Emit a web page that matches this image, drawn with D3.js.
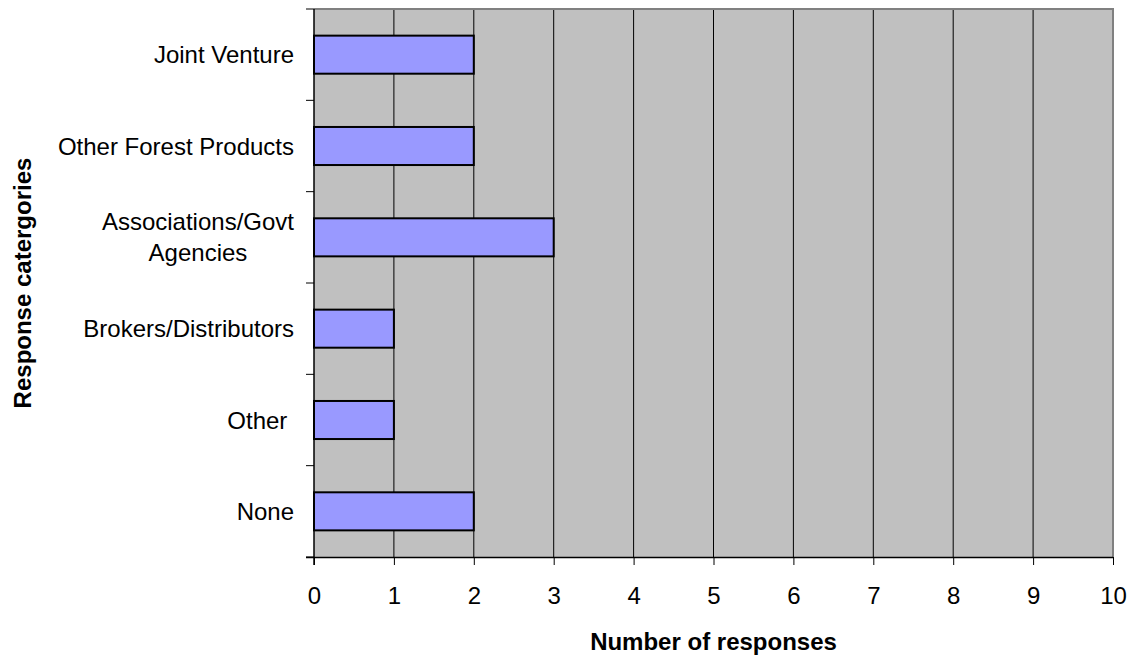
<!DOCTYPE html>
<html>
<head>
<meta charset="utf-8">
<script src="https://cdn.jsdelivr.net/npm/d3@7"></script>
<style>
  html, body { margin: 0; padding: 0; background: #ffffff; }
  svg { display: block; }
  text { font-family: Arial, "Liberation Sans", sans-serif; fill: #000; white-space: pre; }
</style>
</head>
<body>
<svg id="chart" width="1139" height="658"></svg>
<script>
// Response categories (top to bottom) and their counts
const categories = ["Joint Venture", "Other Forest Products", "Associations/Govt\nAgencies", "Brokers/Distributors", "Other ", "None"];
const responses = [2, 2, 3, 1, 1, 2];
const xTicks = [0, 1, 2, 3, 4, 5, 6, 7, 8, 9, 10];
const xTitle = "Number of responses";
const yTitle = "Response catergories";

const svg = d3.select("#chart");
const plot = { left: 314, right: 1113, top: 9, bottom: 557 };

const x = d3.scaleLinear().domain([0, 10]).range([plot.left, plot.right]);
const y = d3.scaleBand().domain(categories).range([plot.top, plot.bottom]).padding(0);

// plot background
svg.append("rect")
  .attr("x", plot.left).attr("y", plot.top)
  .attr("width", plot.right - plot.left).attr("height", plot.bottom - plot.top)
  .attr("fill", "#c0c0c0");

// vertical gridlines
svg.append("g").selectAll("line")
  .data(xTicks.filter(d => d > 0 && d < 10))
  .join("line")
  .attr("x1", d => x(d)).attr("x2", d => x(d))
  .attr("y1", plot.top).attr("y2", plot.bottom)
  .attr("stroke", "#000").attr("stroke-width", 1);

// top and right border
svg.append("path")
  .attr("d", `M${plot.left},${plot.top}H${plot.right}V${plot.bottom}`)
  .attr("fill", "none").attr("stroke", "#808080").attr("stroke-width", 2);

// bars (gap width 140%)
const barH = y.bandwidth() / 2.4;
svg.append("g").selectAll("rect")
  .data(categories.map((c, i) => ({ c, v: responses[i] })))
  .join("rect")
  .attr("x", x(0))
  .attr("y", d => y(d.c) + (y.bandwidth() - barH) / 2)
  .attr("width", d => x(d.v) - x(0))
  .attr("height", barH)
  .attr("fill", "#9999ff")
  .attr("stroke", "#000").attr("stroke-width", 2);

// x axis
const xAxis = svg.append("g")
  .attr("transform", `translate(0,${plot.bottom})`)
  .call(d3.axisBottom(x).tickValues(xTicks).tickFormat(d3.format("d")).tickSize(8).tickSizeOuter(0).tickPadding(22));
xAxis.select(".domain").attr("stroke", "#000").attr("stroke-width", 1.5)
  .attr("d", `M${plot.left - 8},0.5H${plot.right}`);
xAxis.selectAll(".tick line").attr("stroke", "#000");
xAxis.selectAll(".tick text").attr("font-size", 24).attr("font-family", "Arial, 'Liberation Sans', sans-serif");

// y axis: tick marks on category boundaries
const boundaries = categories.map(c => y(c)).concat([plot.bottom]);
svg.append("line")
  .attr("x1", plot.left).attr("x2", plot.left)
  .attr("y1", plot.top).attr("y2", plot.bottom + 8)
  .attr("stroke", "#000").attr("stroke-width", 1.5);
svg.append("g").selectAll("line")
  .data(boundaries)
  .join("line")
  .attr("x1", plot.left - 8).attr("x2", plot.left)
  .attr("y1", d => d).attr("y2", d => d)
  .attr("stroke", "#000").attr("stroke-width", 1);

// category labels: lines centred on each other, block right-aligned at the axis
const labels = svg.append("g").selectAll("text")
  .data(categories)
  .join("text")
  .attr("font-size", 24)
  .attr("text-anchor", "middle");
labels.each(function (c) {
  const lines = c.split("\n");
  const t = d3.select(this);
  const cy = y(c) + y.bandwidth() / 2;
  const lh = 31;
  lines.forEach((ln, i) => {
    t.append("tspan").attr("x", 0)
      .attr("y", cy + (i - (lines.length - 1) / 2) * lh + 8.5)
      .text(ln);
  });
  const w = d3.max(t.selectAll("tspan").nodes(), n => n.getComputedTextLength());
  t.attr("transform", `translate(${294 - w / 2},0)`);
});

// axis titles
svg.append("text")
  .attr("x", (plot.left + plot.right) / 2).attr("y", 650)
  .attr("text-anchor", "middle")
  .attr("font-size", 24).attr("font-weight", "bold")
  .text(xTitle);

svg.append("text")
  .attr("transform", `translate(31,${(plot.top + plot.bottom) / 2}) rotate(-90)`)
  .attr("text-anchor", "middle")
  .attr("font-size", 24).attr("font-weight", "bold")
  .text(yTitle);
</script>
</body>
</html>
